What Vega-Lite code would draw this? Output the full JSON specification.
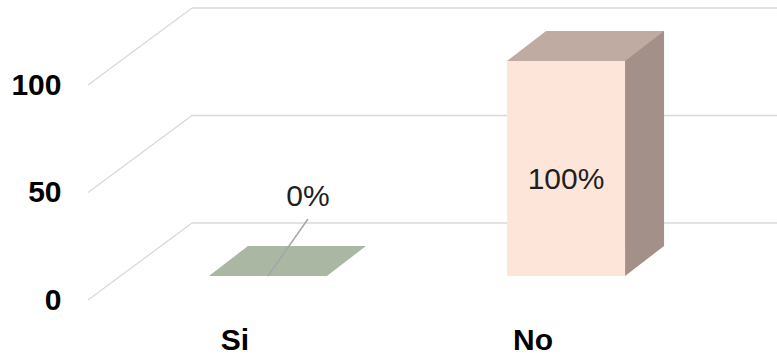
{
  "$schema": "https://vega.github.io/schema/vega-lite/v6.json",
  "width": 592,
  "height": 215,
  "autosize": {"type": "none"},
  "padding": {"left": 88, "top": 85, "right": 97, "bottom": 58},
  "background": "#ffffff",
  "config": {
    "view": {"stroke": null},
    "font": "Liberation Sans",
    "axis": {"labelFont": "Liberation Sans", "labelFontSize": 30, "labelFontWeight": "bold", "labelColor": "#000000", "ticks": false, "tickSize": 0, "domain": false, "grid": false, "title": null}
  },
  "datasets": {
    "bars": [{"cat": "Si", "v": 0}, {"cat": "No", "v": 100}],
    "grid": [{"g": 0}, {"g": 50}, {"g": 100}]
  },
  "layer": [
    {
      "data": {"name": "grid"},
      "mark": {"type": "rule", "color": "#d9d9d9", "strokeWidth": 1.3, "yOffset": -77, "y2Offset": -77, "xOffset": 104, "x2Offset": 720},
      "encoding": {
        "x": {"value": 0},
        "x2": {"value": 0},
        "y": {"field": "g", "type": "quantitative", "scale": {"domain": [0, 100], "nice": false, "zero": true}, "axis": {"values": [0, 50, 100], "labelPadding": 27, "labelBaseline": "middle"}},
        "y2": {"field": "g"}
      }
    },
    {
      "data": {"name": "grid"},
      "mark": {"type": "rule", "color": "#d9d9d9", "strokeWidth": 1.3, "y2Offset": -77, "x2Offset": 104},
      "encoding": {
        "x": {"value": 0},
        "x2": {"value": 0},
        "y": {"field": "g", "type": "quantitative"},
        "y2": {"field": "g"}
      }
    },
    {
      "data": {"name": "bars"},
      "mark": {"type": "bar", "xOffset": 72, "x2Offset": 72, "yOffset": -54, "y2Offset": -54},
      "encoding": {
        "x": {"field": "cat", "type": "nominal", "sort": ["Si", "No"], "scale": {"type": "band", "domain": ["Si", "No"], "paddingInner": 0.604, "paddingOuter": 0.295}, "axis": {"labelAngle": 0, "labelPadding": 49, "labelBaseline": "alphabetic"}},
        "y": {"field": "v", "type": "quantitative"},
        "color": {"condition": {"test": "datum.cat == 'Si'", "value": "#8f9c88"}, "value": "#a39189"}
      }
    },
    {
      "data": {"name": "bars"},
      "transform": [{"filter": "datum.v > 0"}],
      "mark": {"type": "point", "filled": true, "opacity": 1, "strokeWidth": 0, "size": 40000, "shape": "M0.59,0L0.98,-0.3L0.59,-0.3Z", "xOffset": 33, "yOffset": -24},
      "encoding": {
        "x": {"field": "cat", "type": "nominal"},
        "y": {"datum": 0, "type": "quantitative"},
        "color": {"condition": {"test": "datum.cat == 'Si'", "value": "#8f9c88"}, "value": "#a39189"}
      }
    },
    {
      "data": {"name": "bars"},
      "mark": {"type": "bar", "xOffset": 33, "x2Offset": 33, "yOffset": -24, "y2Offset": -24},
      "encoding": {
        "x": {"field": "cat", "type": "nominal"},
        "y": {"field": "v", "type": "quantitative"},
        "color": {"condition": {"test": "datum.cat == 'Si'", "value": "#dde6d6"}, "value": "#fee5d9"}
      }
    },
    {
      "data": {"name": "bars"},
      "mark": {"type": "point", "filled": true, "opacity": 1, "strokeWidth": 0, "size": 40000, "shape": "M-0.59,0L0.59,0L0.98,-0.3L-0.2,-0.3Z", "xOffset": 33, "yOffset": -24},
      "encoding": {
        "x": {"field": "cat", "type": "nominal"},
        "y": {"field": "v", "type": "quantitative"},
        "color": {"condition": {"test": "datum.cat == 'Si'", "value": "#aab7a3"}, "value": "#bfaba1"}
      }
    },
    {
      "data": {"name": "bars"},
      "transform": [{"filter": "datum.v <= 50"}],
      "mark": {"type": "rule", "color": "#a6a6a6", "strokeWidth": 1.5, "xOffset": 33, "x2Offset": 73, "yOffset": -24, "y2Offset": -81},
      "encoding": {
        "x": {"field": "cat", "type": "nominal"},
        "x2": {"field": "cat"},
        "y": {"field": "v", "type": "quantitative"},
        "y2": {"field": "v"}
      }
    },
    {
      "data": {"name": "bars"},
      "transform": [{"filter": "datum.v <= 50"}, {"calculate": "datum.v + '%'", "as": "lab"}],
      "mark": {"type": "text", "font": "Liberation Sans", "fontSize": 30, "color": "#1f1f1f", "baseline": "middle", "align": "center", "xOffset": 73, "yOffset": -103},
      "encoding": {
        "x": {"field": "cat", "type": "nominal"},
        "y": {"field": "v", "type": "quantitative"},
        "text": {"field": "lab"}
      }
    },
    {
      "data": {"name": "bars"},
      "transform": [{"filter": "datum.v > 50"}, {"calculate": "datum.v + '%'", "as": "lab"}],
      "mark": {"type": "text", "font": "Liberation Sans", "fontSize": 30, "color": "#1f1f1f", "baseline": "middle", "align": "center", "xOffset": 33, "yOffset": 95},
      "encoding": {
        "x": {"field": "cat", "type": "nominal"},
        "y": {"field": "v", "type": "quantitative"},
        "text": {"field": "lab"}
      }
    }
  ]
}
